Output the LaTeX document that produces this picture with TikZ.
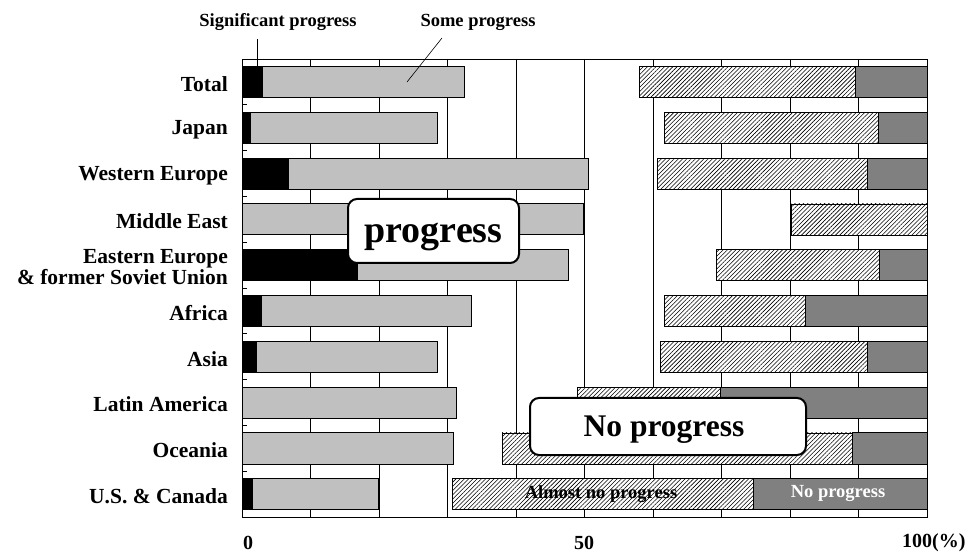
\documentclass[tikz,border=0pt]{standalone}
\usepackage{fontspec}
\setmainfont{Liberation Serif}
\usetikzlibrary{patterns.meta}
\definecolor{barlight}{RGB}{192,192,192}
\definecolor{bardark}{RGB}{128,128,128}
\tikzset{
  rowlabel/.style={anchor=east,font=\bfseries\fontsize{21.5}{22}\selectfont,inner sep=0pt,align=right},
  toplabel/.style={font=\bfseries\fontsize{18.5}{20}\selectfont,inner sep=0pt},
  axislabel/.style={font=\bfseries\fontsize{20}{22}\selectfont,inner sep=0pt},
  callout/.style={draw=black,line width=2pt,rounded corners=9pt,fill=white,inner sep=0pt},
  callouttext/.style={anchor=base,inner sep=0pt},
  hatchbar/.style={draw=black,line width=0.7pt,preaction={fill=white},pattern={Lines[angle=45,distance=3pt,line width=0.6pt]}},
  graybar/.style={draw=black,line width=0.8pt,fill=barlight},
  darkbar/.style={draw=black,line width=0.8pt,fill=bardark},
  blackbar/.style={draw=black,line width=0.8pt,fill=black},
  gridline/.style={line width=0.8pt,black},
}
\newcommand\rowbars[5]{%
  \pgfmathsetmacro\ytop{59+#1*45.8+7.5}%
  \pgfmathsetmacro\ybot{\ytop+31}%
  \draw[graybar] (242,\ytop) rectangle (#3,\ybot);
  \ifdim #2pt>242pt \draw[blackbar] (242,\ytop) rectangle (#2,\ybot);\fi
  \draw[hatchbar] (#4,\ytop) rectangle (#5,\ybot);
  \ifdim #5pt<927pt \draw[darkbar] (#5,\ytop) rectangle (927,\ybot);\fi
}
\begin{document}
\begin{tikzpicture}[x=1pt,y=-1pt]
\useasboundingbox (0,0) rectangle (970,553);
\fill[white] (0,0) rectangle (970,553);
% grid
\foreach \k in {1,...,9} {
  \draw[gridline] ({242+68.5*\k},59) -- ({242+68.5*\k},517);
}
\draw[gridline] (242,59) rectangle (927,517);
\foreach \r in {1,...,9} {
  \draw[gridline] (242,{59+45.8*\r}) -- (247,{59+45.8*\r});
}
% bars: row, black end, gray end, hatch start, dark start
\rowbars{0}{262}{464}{639}{855}
\rowbars{1}{250}{437}{664}{878}
\rowbars{2}{288}{588}{657}{867}
\rowbars{3}{242}{583}{791}{927}
\rowbars{4}{357}{568}{716}{879}
\rowbars{5}{261}{471}{664}{805}
\rowbars{6}{256}{437}{660}{867}
\rowbars{7}{242}{456}{577}{720}
\rowbars{8}{242}{453}{502}{852}
\rowbars{9}{252}{378}{452}{753}
% row labels
\node[rowlabel] (lTotal) at (228,84) {Total};
\node[rowlabel] (lJapan) at (228,130) {Japan};
\node[rowlabel] (lWE) at (228,176) {Western Europe};
\node[rowlabel] (lME) at (228,221) {Middle East};
\node[rowlabel] (lEE) at (228,267) {Eastern Europe\\[-1pt]\& former Soviet Union};
\node[rowlabel] (lAfrica) at (228,313) {Africa};
\node[rowlabel] (lAsia) at (228,359) {Asia};
\node[rowlabel] (lLatin) at (228,404) {Latin America};
\node[rowlabel] (lOceania) at (228,450) {Oceania};
\node[rowlabel] (lUS) at (228,496) {U.S. \& Canada};
% top labels and leaders
\node[toplabel] (sig) at (278,22) {Significant progress};
\node[toplabel] (some) at (478,22) {Some progress};
\coordinate (sigend) at (257,75);
\coordinate (somestart) at (442,38);
\coordinate (someend) at (407,82);
\draw[line width=0.7pt] (sig.south -| sigend) ++(0,8) -- (sigend);
\draw[line width=0.6pt] (somestart) -- (someend);
% in-bar labels
\node[font=\bfseries\fontsize{18.5}{20}\selectfont,inner sep=0pt] (almost) at (601,494) {Almost no progress};
\node[font=\bfseries\fontsize{18.5}{20}\selectfont,inner sep=0pt,text=white] (nop) at (838,493) {No progress};
% callouts
\node[callout,minimum width=171pt,minimum height=64pt] (cprog) at (433.5,231) {};
\node[callouttext,font=\bfseries\fontsize{38}{40}\selectfont] (cprogtext) at (433.5,243) {progress};
\node[callout,minimum width=276pt,minimum height=57pt] (cnop) at (668,426.5) {};
\node[callouttext,font=\bfseries\fontsize{31.5}{33}\selectfont] (cnoptext) at (664,437) {No progress};
% axis labels
\node[axislabel] (a0) at (248,543) {0};
\node[axislabel] (a50) at (584,543) {50};
\node[axislabel,anchor=west] (a100) at (902,543) {100(\%)};
\end{tikzpicture}
\end{document}
